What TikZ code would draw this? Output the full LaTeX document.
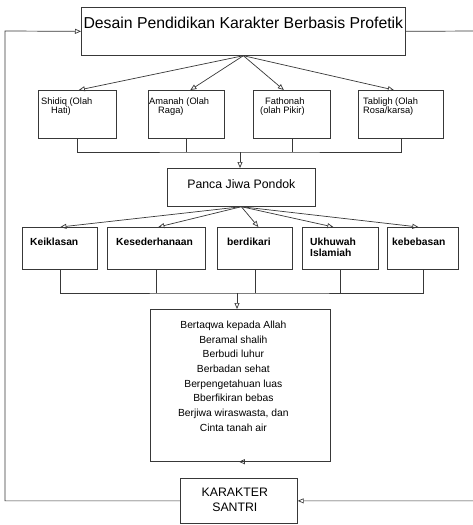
\documentclass[tikz,border=0pt]{standalone}
\usepackage{fontspec}
\setmainfont{Liberation Sans}
\usetikzlibrary{arrows.meta,calc}
\begin{document}
\begin{tikzpicture}[x=1pt,y=-1pt,
  ln/.style={line width=0.7pt, draw=black!78},
  box/.style={ln, rectangle, inner sep=0pt, anchor=north west},
  arr/.style={ln, -{Triangle[open,length=6pt,width=5pt]}},
  conn/.style={ln},
  ttl/.style={inner sep=0pt, font=\fontsize{15.8}{18}\selectfont},
  pil/.style={inner sep=0pt, align=left, font=\fontsize{9.3}{8.8}\selectfont},
  jwa/.style={inner sep=0pt, align=left, font=\bfseries\fontsize{10.3}{10.5}\selectfont},
  nil/.style={inner sep=0pt, align=center, font=\fontsize{10.3}{14.7}\selectfont},
  hdr/.style={inner sep=0pt, align=center, font=\fontsize{12.3}{15}\selectfont},
]
\fill[white] (0,0) rectangle (473,525);
\useasboundingbox (0,0) rectangle (473,525);

% design box
\node[box, minimum width=324pt, minimum height=48pt,
  label={[ttl, anchor=north, yshift=-9.7pt]north:Desain Pendidikan Karakter Berbasis Profetik}]
  (top) at (81,7) {};

% four prophetic traits
\node[box, minimum width=78pt, minimum height=48pt,
  label={[pil, anchor=north west, xshift=3pt, yshift=-7.7pt]north west:{Shidiq (Olah\\\hspace*{10pt}Hati)}}]
  (s1) at (38,90) {};
\node[box, minimum width=76pt, minimum height=48pt,
  label={[pil, anchor=north west, xshift=1pt, yshift=-7.7pt]north west:{Amanah (Olah\\\hspace*{9pt}Raga)}}]
  (s2) at (148,90) {};
\node[box, minimum width=77pt, minimum height=48pt,
  label={[pil, anchor=north west, xshift=7pt, yshift=-7.7pt]north west:{\hspace*{5pt}Fathonah\\(olah Pikir)}}]
  (s3) at (253,90) {};
\node[box, minimum width=85pt, minimum height=48pt,
  label={[pil, anchor=north west, xshift=5pt, yshift=-7.7pt]north west:{Tabligh (Olah\\Rosa/karsa)}}]
  (s4) at (358,90) {};

% five souls of the pesantren
\node[box, minimum width=148pt, minimum height=38pt,
  label={[hdr, anchor=north, yshift=-11.3pt]north:Panca Jiwa Pondok}]
  (pj) at (167,168) {};

\node[box, minimum width=75pt, minimum height=42pt,
  label={[jwa, anchor=north west, xshift=8pt, yshift=-11.3pt]north west:Keiklasan}]
  (k1) at (22,227) {};
\node[box, minimum width=98pt, minimum height=42pt,
  label={[jwa, anchor=north west, xshift=9pt, yshift=-11.3pt]north west:Kesederhanaan}]
  (k2) at (107,227) {};
\node[box, minimum width=75pt, minimum height=42pt,
  label={[jwa, anchor=north west, xshift=10pt, yshift=-11.3pt]north west:berdikari}]
  (k3) at (217,227) {};
\node[box, minimum width=76pt, minimum height=42pt,
  label={[jwa, anchor=north west, xshift=8pt, yshift=-11.3pt]north west:{Ukhuwah\\Islamiah}}]
  (k4) at (302,227) {};
\node[box, minimum width=71pt, minimum height=42pt,
  label={[jwa, anchor=north west, xshift=5pt, yshift=-11.3pt]north west:kebebasan}]
  (k5) at (387,227) {};

% values box
\node[box, minimum width=180pt, minimum height=152pt,
  label={[nil, anchor=north, xshift=-7pt, yshift=-11.7pt]north:{Bertaqwa kepada Allah\\Beramal shalih\\Berbudi luhur\\Berbadan sehat\\Berpengetahuan luas\\Bberfikiran bebas\\Berjiwa wiraswasta, dan\\Cinta tanah air}}]
  (nl) at (150,309) {};

% outcome
\node[box, minimum width=117pt, minimum height=45pt,
  label={[hdr, anchor=north, xshift=-4pt, yshift=-10.3pt]north:{KARAKTER\\SANTRI}}]
  (ks) at (180,478) {};

% junctions and feedback corners
\coordinate (j1) at (240,152);
\coordinate (j2) at (237,293);
\coordinate (lc) at (5,31);
\coordinate (rc) at (474.5,31);

% design -> traits
\draw[arr] (top.south) -- ($(s1.north)+(1.5,0)$);
\draw[arr] (top.south) -- ($(s2.north)+(4,0)$);
\draw[arr] (top.south) -- ($(s3.north)+(-8,0)$);
\draw[arr] (top.south) -- ($(s4.north)+(-7,0)$);

% traits -> panca jiwa
\draw[conn] (s1.south) |- (j1) -| (s4.south);
\draw[conn] (s2.south) -- (s2.south |- j1);
\draw[conn] (s3.south) -- (s3.south |- j1);
\draw[arr] (j1) -- (j1 |- pj.north);

% panca jiwa -> souls
\draw[arr] (pj.south) -- ($(k1.north)+(0.5,0)$);
\draw[arr] (pj.south) -- ($(k2.north)+(2,0)$);
\draw[arr] (pj.south) -- ($(k3.north)+(3.5,0)$);
\draw[arr] (pj.south) -- ($(k4.north)+(-7,0)$);
\draw[arr] (pj.south) -- ($(k5.north)+(-4.5,0)$);

% souls -> values
\draw[conn] (k1.south) |- (j2) -| (k5.south);
\draw[conn] (k2.south) -- (k2.south |- j2);
\draw[conn] (k3.south) -- (k3.south |- j2);
\draw[conn] (k4.south) -- (k4.south |- j2);
\draw[arr] (j2) -- (j2 |- nl.north);

% values -> character
\draw[arr] (nl.south) -- (nl.south -| ks.north);

% feedback loops
\draw[arr] (ks.west) -| (lc) -- (top.west);
\draw[arr] (top.east) -- (rc) |- (ks.east);
\end{tikzpicture}
\end{document}
